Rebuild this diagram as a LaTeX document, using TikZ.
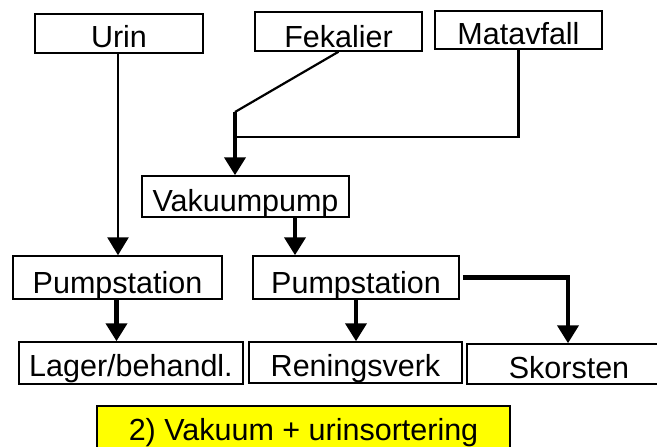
\documentclass[tikz,border=0pt]{standalone}
\usepackage{fontspec}
\setmainfont{Liberation Sans}
\usetikzlibrary{arrows.meta}
\begin{document}
\begin{tikzpicture}[x=1pt,y=-1pt,
  box/.style={draw, line width=1.5pt, inner sep=0pt, anchor=base,
    font=\fontsize{30.5}{36}\selectfont},
  thinln/.style={line width=2.2pt},
  midln/.style={line width=2.8pt},
  thickln/.style={line width=4.2pt},
  tip/.style={-{Triangle[width=21pt,length=18pt]}}]
\clip (0,0) rectangle (657,447);
\fill[white] (0,0) rectangle (657,447);
\node[box, minimum width=168pt, text height=34pt, text depth=5pt] (urin) at (119,48) {Urin};
\node[box, minimum width=167pt, text height=35pt, text depth=4pt] (fek) at (338.5,47) {Fekalier};
\node[box, minimum width=167pt, text height=34pt, text depth=4pt] (mat) at (518.5,45) {Matavfall};
\node[box, minimum width=207pt, text height=35pt, text depth=6pt] (vak) at (245.5,211) {Vakuumpump};
\node[box, minimum width=209pt, text height=37pt, text depth=6pt] (p1) at (117.5,293) {Pumpstation};
\node[box, minimum width=206pt, text height=37pt, text depth=6pt] (p2) at (356,293) {Pumpstation};
\node[box, minimum width=224pt, text height=34pt, text depth=8pt] (lag) at (131,376) {Lager/behandl.};
\node[box, minimum width=213pt, text height=34pt, text depth=7pt] (ren) at (355.5,376) {Reningsverk};
\node[box, minimum width=204pt, text height=34pt, text depth=6pt] (sko) at (569,378) {Skorsten};
\node[box, fill={rgb,255:red,255;green,255;blue,0}, minimum width=413pt, text height=34pt, text depth=20pt] (cap) at (303.5,440) {2) Vakuum + urinsortering};
\coordinate (j1) at (235,112);
\coordinate (j2) at (235,137);
\draw[midln, tip] ([xshift=-1pt]urin.south) -- ([xshift=-1pt]urin.south |- p1.north);
\draw[thinln] (fek.south) -- (j1);
\draw[midln] (mat.south) |- (j2);
\draw[thickln, tip] (j1) -- (j1 |- vak.north);
\draw[thickln, tip] ([xshift=49.5pt]vak.south) -- ([xshift=49.5pt]vak.south |- p2.north);
\draw[thickln, tip] ([xshift=-1pt]p1.south) -- ([xshift=-1pt]p1.south |- lag.north);
\draw[thickln, tip] (p2.south) -- (p2.south |- ren.north);
\draw[thickln, tip] ([xshift=3pt]p2.east) -| ([xshift=-1pt]sko.north);
\end{tikzpicture}
\end{document}
